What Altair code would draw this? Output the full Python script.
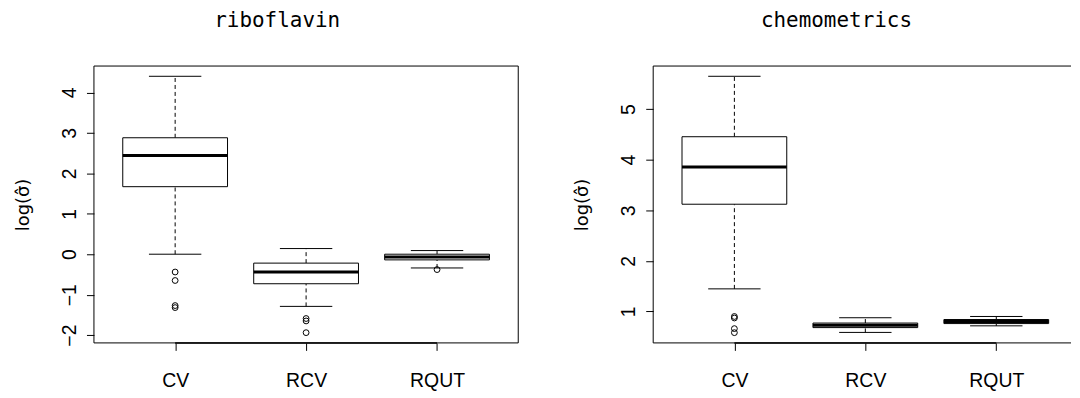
import altair as alt
import pandas as pd

methods = ["CV", "RCV", "RQUT"]
positions = [1, 2, 3]

# riboflavin panel
ribo_lower = [0.00, -1.29, -0.34]
ribo_q1 = [1.67, -0.73, -0.14]
ribo_median = [2.44, -0.44, -0.07]
ribo_q3 = [2.88, -0.22, 0.00]
ribo_upper = [4.40, 0.14, 0.09]
ribo_out_method = ["CV", "CV", "CV", "CV", "RCV", "RCV", "RCV", "RQUT"]
ribo_out_value = [-0.44, -0.65, -1.27, -1.32, -1.59, -1.65, -1.94, -0.38]
ribo_ticks = [-2, -1, 0, 1, 2, 3, 4]

# chemometrics panel
chem_lower = [1.446, 0.585, 0.715]
chem_q1 = [3.12, 0.68, 0.76]
chem_median = [3.855, 0.725, 0.80]
chem_q3 = [4.455, 0.77, 0.84]
chem_upper = [5.65, 0.875, 0.90]
chem_out_method = ["CV", "CV", "CV", "CV"]
chem_out_value = [0.90, 0.87, 0.66, 0.58]
chem_ticks = [1, 2, 3, 4, 5]

W, H = 426, 278          # full plot region of one panel
W_RIGHT = 419.5          # visible part of the right panel (cut by the page edge)
AX_FONT = "Liberation Sans"
FS = 19.5


def panel(name, lower, q1, med, q3, upper, out_m, out_v, ticks, width, right_border, title_dx):
    stats = pd.DataFrame({
        "method": methods, "pos": positions,
        "lower": lower, "q1": q1, "median": med, "q3": q3, "upper": upper,
    })
    pos_of = dict(zip(methods, positions))
    outs = pd.DataFrame({"method": out_m, "value": out_v})
    outs["pos"] = outs["method"].map(pos_of)

    vals = lower + upper + out_v
    lo, hi = min(vals), max(vals)
    ext = 0.04 * (hi - lo)
    xlo, xhi = 0.5, len(methods) + 0.5
    xext = 0.04 * (xhi - xlo)
    x0, x1 = xlo - xext, xhi + xext
    x1 = x0 + (x1 - x0) * width / W
    ysc = alt.Scale(domain=[lo - ext, hi + ext], nice=False, zero=False)
    xsc = alt.Scale(domain=[x0, x1], nice=False, zero=False)

    label_list = "[" + ",".join("'%s'" % m for m in methods) + "]"
    xaxis = alt.Axis(values=positions, labelExpr=label_list + "[datum.value-1]",
                     title=None, grid=False, domain=False, tickSize=7.5,
                     tickColor="black", labelColor="black", labelFont=AX_FONT,
                     labelFontSize=FS, labelBaseline="alphabetic", labelPadding=36,
                     labelFlush=False)
    yaxis = alt.Axis(values=ticks, title="log(\u03c3\u0302)", grid=False, domain=False,
                     tickSize=7.5, tickColor="black", labelColor="black",
                     labelFont=AX_FONT, labelFontSize=FS, labelAngle=270,
                     labelAlign="center", labelBaseline="alphabetic", labelPadding=11.3,
                     labelFlush=False, labelOverlap=False,
                     titleFont="DejaVu Sans", titleFontSize=18, titleFontWeight="normal",
                     titleColor="black", titleAngle=270, titleAlign="center",
                     titleBaseline="alphabetic", titleX=-66, titleY=H / 2)

    base = alt.Chart(stats).transform_calculate(
        b0="datum.pos - 0.4", b1="datum.pos + 0.4",
        c0="datum.pos - 0.2", c1="datum.pos + 0.2",
    )
    xe = lambda f: alt.X(f, type="quantitative", scale=xsc, axis=xaxis)
    ye = lambda f: alt.Y(f, type="quantitative", scale=ysc, axis=yaxis)

    wh_up = base.mark_rule(color="black", strokeWidth=1, strokeDash=[4, 3]).encode(
        x=xe("pos"), y=ye("q3"), y2="upper")
    wh_lo = base.mark_rule(color="black", strokeWidth=1, strokeDash=[4, 3]).encode(
        x=xe("pos"), y=ye("lower"), y2="q1")
    box = base.mark_rect(fill="white", stroke="black", strokeWidth=1).encode(
        x=xe("b0"), x2="b1", y=ye("q1"), y2="q3")
    medl = base.mark_rule(color="black", strokeWidth=3).encode(
        x=xe("b0"), x2="b1", y=ye("median"))
    cap_up = base.mark_rule(color="black", strokeWidth=1).encode(
        x=xe("c0"), x2="c1", y=ye("upper"))
    cap_lo = base.mark_rule(color="black", strokeWidth=1).encode(
        x=xe("c0"), x2="c1", y=ye("lower"))
    pts = alt.Chart(outs).mark_point(shape="circle", filled=False, color="black",
                                     size=34, strokeWidth=1, opacity=1).encode(
        x=xe("pos"), y=ye("value"))
    axline = alt.Chart(stats).transform_aggregate(
        p0="min(pos)", p1="max(pos)").mark_rule(color="black", strokeWidth=1.5).encode(
        x=xe("p0"), x2="p1", y=alt.value(H))

    # plot frame (the right panel's right edge lies beyond the page)
    one = alt.Chart(pd.DataFrame({"k": [0]}))
    frame_style = dict(color="black", strokeWidth=1)
    frame = [
        one.mark_rule(**frame_style).encode(x=alt.value(0), x2=alt.value(width), y=alt.value(0)),
        one.mark_rule(**frame_style).encode(x=alt.value(0), x2=alt.value(width), y=alt.value(H)),
        one.mark_rule(**frame_style).encode(x=alt.value(0), y=alt.value(0), y2=alt.value(H)),
    ]
    if right_border:
        frame.append(one.mark_rule(**frame_style).encode(
            x=alt.value(width), y=alt.value(0), y2=alt.value(H)))

    return alt.layer(wh_up, wh_lo, box, medl, cap_up, cap_lo, pts, axline, *frame).properties(
        width=width, height=H,
        title=alt.TitleParams(text=name, font="DejaVu Sans Mono", fontSize=21,
                              fontWeight="normal", anchor="middle", frame="group",
                              baseline="alphabetic", offset=17.5, dx=title_dx,
                              color="black"),
    )


left = panel("riboflavin", ribo_lower, ribo_q1, ribo_median, ribo_q3, ribo_upper,
             ribo_out_method, ribo_out_value, ribo_ticks, W, True, -29)
# the right panel is cut by the page edge, so its centre shifts by half the hidden part
right = panel("chemometrics", chem_lower, chem_q1, chem_median, chem_q3, chem_upper,
              chem_out_method, chem_out_value, chem_ticks, W_RIGHT, False,
              -29 + (W - W_RIGHT) / 2)

chart = alt.hconcat(left, right, spacing=135.5, bounds="flush").properties(
    padding={"left": 6.3, "top": 1.5, "right": 0, "bottom": 0},
    background="white",
).configure_view(stroke=None)

chart.save("out.html", embed_options={"renderer": "svg", "actions": False})
